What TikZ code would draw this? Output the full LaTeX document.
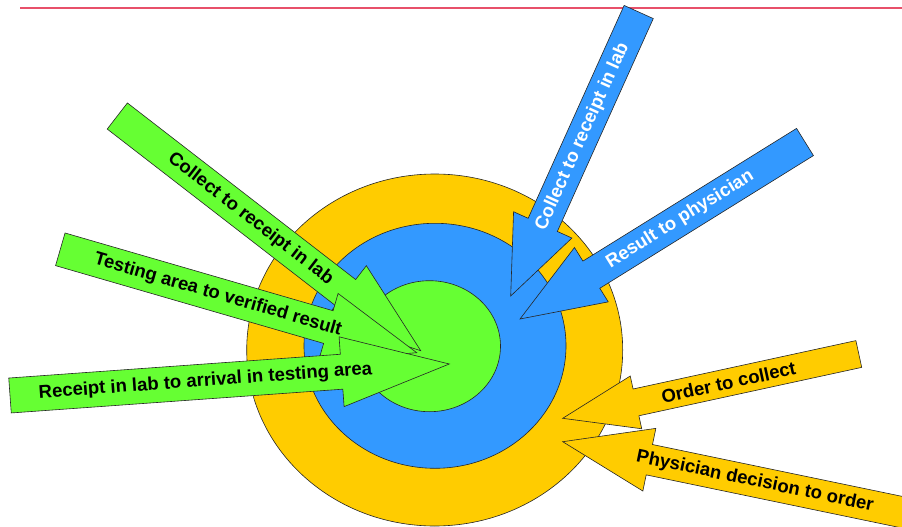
\documentclass[tikz,border=0pt]{standalone}
\usepackage{fontspec}
\setmainfont{Liberation Sans}
\usetikzlibrary{calc}
\definecolor{lime}{HTML}{66FF33}
\definecolor{sky}{HTML}{3399FF}
\definecolor{amber}{HTML}{FFCC00}
\definecolor{rulered}{HTML}{E8506A}
\tikzset{
  outline/.style={draw=black!85, line width=0.6pt, line join=miter},
  grn/.style={outline, fill=lime},
  blu/.style={outline, fill=sky},
  ylw/.style={outline, fill=amber},
  lbl/.style={font=\bfseries\fontsize{18.5}{20}\selectfont, inner sep=0pt, sloped},
  lblw/.style={lbl, text=white},
}
% block arrow: style, tail, tip, shaft half width, head half width, head length
\newcommand{\blockarr}[6]{%
  \coordinate (#2-b) at ($(#3)!#6!(#2)$);
  \draw[#1] ($(#2)!#4!90:(#3)$) -- ($(#2-b)!#4!90:(#3)$) -- ($(#2-b)!#5!90:(#3)$) -- (#3)
    -- ($(#2-b)!#5!-90:(#3)$) -- ($(#2-b)!#4!-90:(#3)$) -- ($(#2)!#4!-90:(#3)$) -- cycle;
}

\begin{document}
\begin{tikzpicture}[x=1pt, y=-1pt]
  \useasboundingbox (0,0) rectangle (902,527);
  \clip (0,0) rectangle (902,527);
  \draw[rulered, line width=1.2pt] (20,8) -- (902,8);
  % rings
  \draw[ylw] (434.7,350) ellipse [x radius=188, y radius=176];
  \draw[blu] (435,345.8) ellipse [x radius=131, y radius=122.5];
  \draw[grn] (429.5,346.2) ellipse [x radius=71, y radius=65.5];
  % tails and tips
  \coordinate (labT) at (117.3,116);   \coordinate (labH) at (420.7,350.7);
  \coordinate (verT) at (60.3,249.3);  \coordinate (verH) at (416.7,352.7);
  \coordinate (arrT) at (10,395.5);    \coordinate (arrH) at (449.3,364);
  \coordinate (rcvT) at (638.7,12);    \coordinate (rcvH) at (510.7,296);
  \coordinate (resT) at (805,142);     \coordinate (resH) at (520,319);
  \coordinate (ordT) at (858.8,354);   \coordinate (ordH) at (562.7,418.3);
  \coordinate (decT) at (906,513);     \coordinate (decH) at (562.7,441.7);
  % green: lab phases
  \blockarr{grn}{labT}{labH}{16.5pt}{34pt}{95pt}
  \path (labT) -- (labH) node[lbl, pos=.439] (labX) {Collect to receipt in lab};
  \blockarr{grn}{verT}{verH}{17pt}{35pt}{92pt}
  \path (verT) -- (verH) node[lbl, pos=.442] (verX) {Testing area to verified result};
  \blockarr{grn}{arrT}{arrH}{17.5pt}{35pt}{108pt}
  \path (arrT) -- (arrH) node[lbl, pos=.445] (arrX) {Receipt in lab to arrival in testing area};
  % blue
  \blockarr{blu}{rcvT}{rcvH}{16pt}{32pt}{78pt}
  \path (rcvT) -- (rcvH) node[lblw, pos=.439] (rcvX) {Collect to receipt in lab};
  \blockarr{blu}{resT}{resH}{16pt}{32pt}{84pt}
  \path (resT) -- (resH) node[lblw, pos=.438] (resX) {Result to physician};
  % yellow
  \blockarr{ylw}{ordT}{ordH}{13.7pt}{27pt}{75pt}
  \path (ordT) -- (ordH) node[lbl, pos=.44] (ordX) {Order to collect};
  \blockarr{ylw}{decT}{decH}{15.5pt}{32pt}{88.5pt}
  \path (decT) -- (decH) node[lbl, pos=.44] (decX) {Physician decision to order};
\end{tikzpicture}
\end{document}
